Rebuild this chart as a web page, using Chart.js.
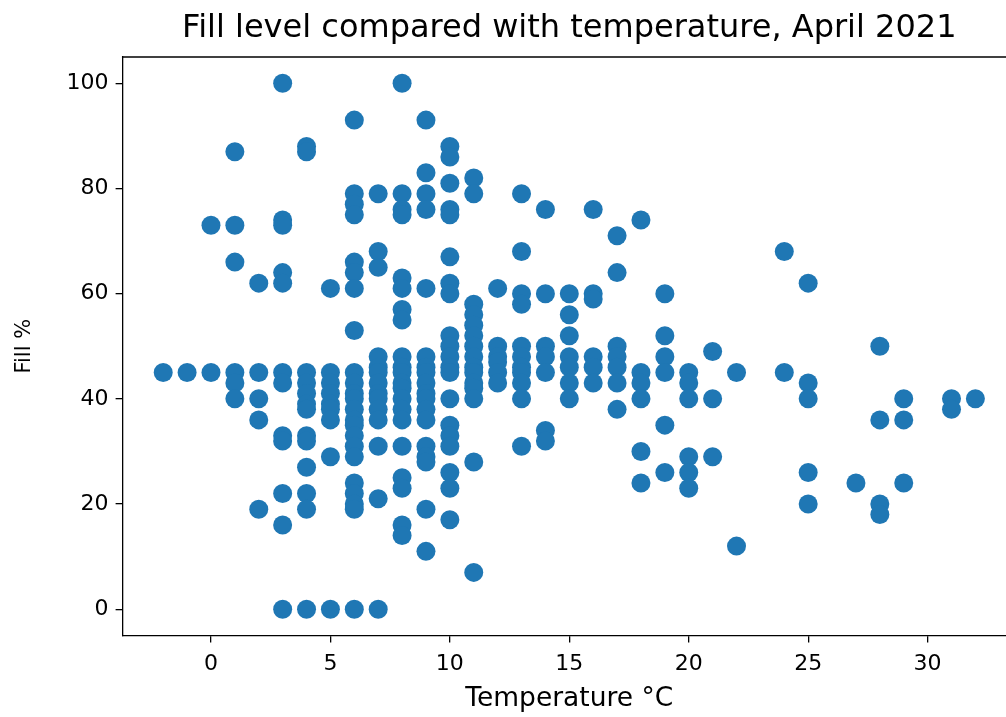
<!DOCTYPE html>
<html>
<head>
<meta charset="utf-8">
<script src="https://cdn.jsdelivr.net/npm/chart.js@4"></script>
<style>
  html, body { margin: 0; padding: 0; background: #fff; overflow: hidden; }
  #wrap { width: 1006px; height: 717px; overflow: hidden; }
</style>
</head>
<body>
<div id="wrap"><canvas id="c" width="1016" height="717"></canvas></div>
<script>
// Temperatures (°C) observed, and the fill levels (%) recorded at each temperature
const temperatures = [-2, -1, 0, 1, 2, 3, 4, 5, 6, 7, 8, 9, 10, 11, 12, 13, 14, 15, 16, 17, 18, 19, 20, 21, 22, 24, 25, 27, 28, 29, 31, 32];
const fillAtM2 = [45];
const fillAtM1 = [45];
const fillAt0 = [73, 45];
const fillAt1 = [87, 73, 66, 45, 43, 40];
const fillAt2 = [62, 45, 40, 36, 19];
const fillAt3 = [100, 74, 73, 64, 62, 45, 43, 33, 32, 22, 16, 0];
const fillAt4 = [88, 87, 45, 43, 41, 39, 38, 33, 32, 27, 22, 19, 0];
const fillAt5 = [61, 45, 43, 41, 39, 38, 36, 29, 0];
const fillAt6 = [93, 79, 77, 75, 66, 64, 61, 53, 45, 43, 41, 40, 38, 36, 35, 33, 31, 29, 24, 22, 20, 19, 0];
const fillAt7 = [79, 68, 65, 48, 46, 45, 43, 41, 40, 38, 36, 31, 21, 0];
const fillAt8 = [100, 79, 76, 75, 63, 61, 57, 55, 48, 46, 45, 43, 42, 40, 38, 36, 31, 25, 23, 16, 14];
const fillAt9 = [93, 83, 79, 76, 61, 48, 46, 45, 43, 41, 40, 38, 36, 31, 29, 28, 19, 11];
const fillAt10 = [88, 86, 81, 76, 75, 67, 62, 60, 52, 50, 48, 46, 45, 40, 35, 33, 31, 26, 23, 17];
const fillAt11 = [82, 79, 58, 56, 54, 52, 50, 48, 46, 45, 43, 42, 40, 28, 7];
const fillAt12 = [61, 50, 48, 47, 45, 43];
const fillAt13 = [79, 68, 60, 58, 50, 48, 46, 45, 43, 40, 31];
const fillAt14 = [76, 60, 50, 48, 45, 34, 32];
const fillAt15 = [60, 56, 52, 48, 46, 43, 40];
const fillAt16 = [76, 60, 59, 48, 46, 43];
const fillAt17 = [71, 64, 50, 48, 46, 43, 38];
const fillAt18 = [74, 45, 43, 40, 30, 24];
const fillAt19 = [60, 52, 48, 45, 35, 26];
const fillAt20 = [45, 43, 40, 29, 26, 23];
const fillAt21 = [49, 40, 29];
const fillAt22 = [45, 12];
const fillAt24 = [68, 45];
const fillAt25 = [62, 43, 40, 26, 20];
const fillAt27 = [24];
const fillAt28 = [50, 36, 20, 18];
const fillAt29 = [40, 36, 24];
const fillAt31 = [40, 38];
const fillAt32 = [40];
const fillLevels = [fillAtM2, fillAtM1, fillAt0, fillAt1, fillAt2, fillAt3, fillAt4, fillAt5, fillAt6, fillAt7,
  fillAt8, fillAt9, fillAt10, fillAt11, fillAt12, fillAt13, fillAt14, fillAt15, fillAt16, fillAt17, fillAt18,
  fillAt19, fillAt20, fillAt21, fillAt22, fillAt24, fillAt25, fillAt27, fillAt28, fillAt29, fillAt31, fillAt32];

const xTickValues = [0, 5, 10, 15, 20, 25, 30];
const yTickValues = [0, 20, 40, 60, 80, 100];

const points = [];
temperatures.forEach((t, i) => fillLevels[i].forEach(f => points.push({ x: t, y: f })));

const FONT = "'DejaVu Sans', sans-serif";
const INK = '#000';

const topFrame = {
  id: 'topFrame',
  afterDraw(chart) {
    const { ctx, chartArea: { left, top, right } } = chart;
    ctx.save();
    ctx.strokeStyle = INK;
    ctx.lineWidth = 1.3;
    ctx.beginPath();
    ctx.moveTo(left - 0.65, top);
    ctx.lineTo(right, top);
    ctx.stroke();
    ctx.restore();
  }
};

new Chart(document.getElementById('c'), {
  type: 'scatter',
  data: {
    datasets: [{
      data: points,
      backgroundColor: '#1f77b4',
      borderWidth: 0,
      pointRadius: 9.5,
      pointHoverRadius: 9.5
    }]
  },
  options: {
    responsive: false,
    animation: false,
    devicePixelRatio: 1,
    layout: { padding: 0, autoPadding: false },
    plugins: {
      legend: { display: false },
      tooltip: { enabled: false },
      title: {
        display: true,
        fullSize: false,
        text: 'Fill level compared with temperature, April 2021',
        color: INK,
        font: { family: FONT, size: 32, weight: 'normal', lineHeight: 1.2 },
        padding: { top: 9, bottom: 9.6 }
      }
    },
    scales: {
      x: {
        type: 'linear',
        min: -3.7,
        max: 33.7,
        afterBuildTicks: s => { s.ticks = xTickValues.map(v => ({ value: v })); },
        afterFit: s => { s.height = 81.5; s.paddingLeft = 0; s.paddingRight = 0; },
        grid: { drawOnChartArea: false, drawTicks: true, tickLength: 7, color: INK, lineWidth: 1.3 },
        border: { display: true, color: INK, width: 1.3 },
        ticks: { color: INK, font: { family: FONT, size: 22 }, padding: 9, maxRotation: 0 },
        title: { display: true, text: 'Temperature °C', color: INK, font: { family: FONT, size: 26.5, lineHeight: 1.2 }, padding: { top: 4, bottom: 1.5 } }
      },
      y: {
        type: 'linear',
        min: -5,
        max: 105,
        afterBuildTicks: s => { s.ticks = yTickValues.map(v => ({ value: v })); },
        afterFit: s => { s.width = 122.6; s.paddingTop = 0; s.paddingBottom = 0; },
        grid: { drawOnChartArea: false, drawTicks: true, tickLength: 7, color: INK, lineWidth: 1.3 },
        border: { display: true, color: INK, width: 1.3 },
        ticks: { color: INK, font: { family: FONT, size: 22 }, padding: 7 },
        title: { display: true, text: 'Fill %', color: INK, font: { family: FONT, size: 21, lineHeight: 1.2 }, padding: { top: 11.5, bottom: 4 } }
      }
    }
  },
  plugins: [topFrame]
});
</script>
</body>
</html>
